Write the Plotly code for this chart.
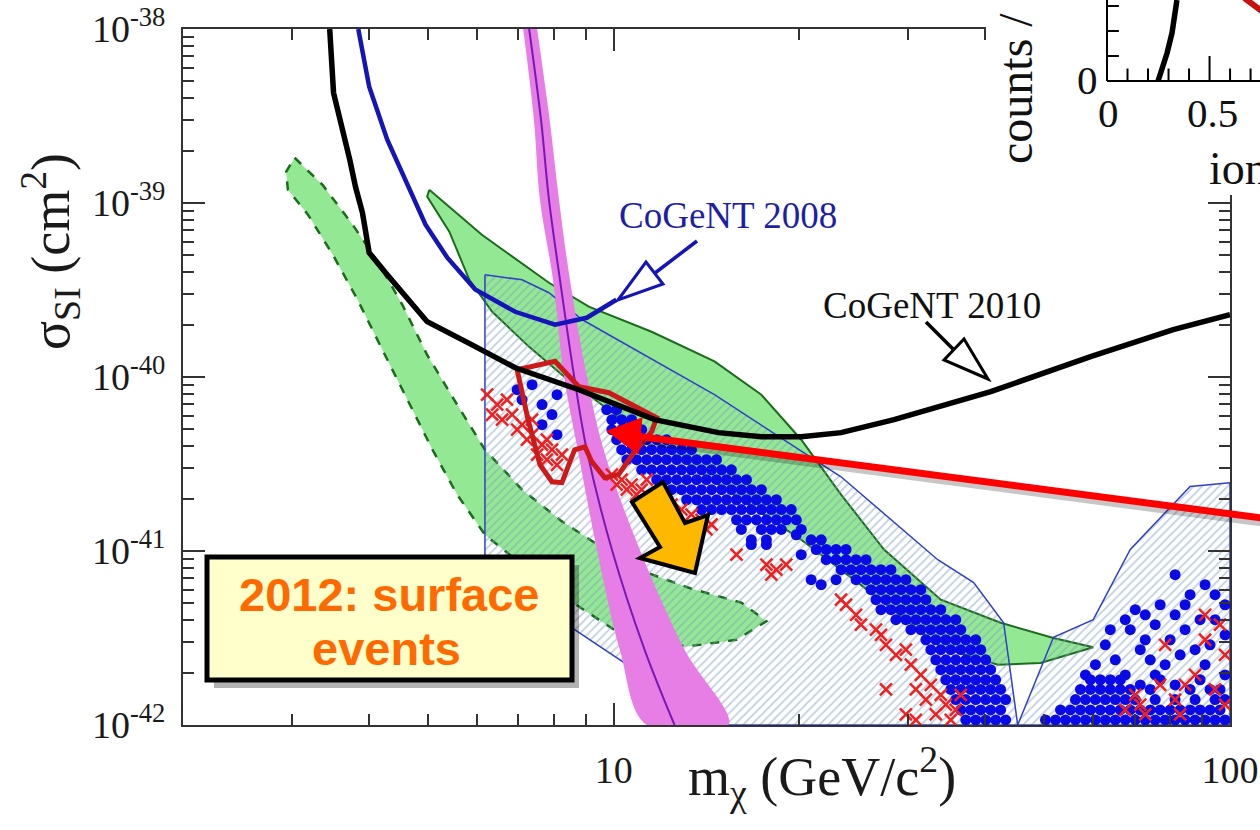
import plotly.graph_objects as go

FIG_W, FIG_H = 1260, 830

# ---------------- values ----------------
# axis ticks
x_major = [10, 100]
x_major_text = ["10", "100"]
x_minor = [3, 4, 5, 6, 7, 8, 9, 20, 30, 40, 50, 60, 70, 80, 90]
y_major = [1e-42, 1e-41, 1e-40, 1e-39, 1e-38]
y_major_text = ["10<sup>-42</sup>", "10<sup>-41</sup>", "10<sup>-40</sup>", "10<sup>-39</sup>", "10<sup>-38</sup>"]
y_minor = [k * 10.0 ** e for e in (-42, -41, -40, -39) for k in range(2, 10)]

# CoGeNT 2010 limit (black)
cogent2010_mass = [3.46, 3.51, 3.73, 3.81, 3.91, 4.01, 4.29, 4.98, 5.89, 6.92, 8.78, 11.65,
                   14.79, 17.36, 20.15, 23.38, 28.5, 40.9, 59.4, 80.9, 100]
cogent2010_sigma = [1e-38, 4.3e-39, 1.77e-39, 1.24e-39, 8.8e-40, 5.18e-40, 3.87e-40, 2.08e-40,
                    1.53e-40, 1.13e-40, 8.45e-41, 5.69e-41, 4.79e-41, 4.54e-41, 4.54e-41, 4.79e-41,
                    5.69e-41, 8.24e-41, 1.31e-40, 1.87e-40, 2.28e-40]

# CoGeNT 2008 limit (blue)
cogent2008_mass = [3.85, 4.01, 4.29, 4.62, 4.95, 5.37, 5.96, 6.92, 8.03, 9.04, 10.1]
cogent2008_sigma = [1e-38, 4.66e-39, 2.31e-39, 1.27e-39, 7.5e-40, 4.85e-40, 3.18e-40, 2.37e-40,
                    2.0e-40, 2.19e-40, 2.78e-40]

# green region with dashed border
dama_dashed_mass = [3.035, 3.37, 3.77, 4.14, 4.54, 4.98, 5.57, 6.18, 7.10, 8.24, 9.56, 11.10, 13.37,
                    16.11, 17.69, 15.82, 13.13, 10.30, 8.55, 7.10, 6.18, 5.57, 5.08, 4.62, 4.21,
                    3.84, 3.50, 3.19, 2.96, 2.94]
dama_dashed_sigma = [1.82e-39, 1.27e-39, 7.50e-40, 4.60e-40, 2.60e-40, 1.34e-40, 6.94e-41, 3.82e-41,
                     2.25e-41, 1.48e-41, 1.05e-41, 7.7e-42, 6.07e-42, 5.05e-42, 3.95e-42, 3.09e-42,
                     2.82e-42, 3.30e-42, 5.1e-42, 8.34e-42, 1.24e-41, 2.11e-41, 3.82e-41, 7.41e-41,
                     1.44e-40, 2.78e-40, 5.05e-40, 8.57e-40, 1.19e-39, 1.51e-39]

# green region with solid border
dama_mass = [5.02, 6.11, 7.85, 9.11, 11.52, 14.57, 17.36, 20.15, 23.38, 27.45, 33.94, 42.44, 51.7,
             60.0, 49.27, 42.0, 33.94, 24.9, 20.15, 16.11, 12.88, 10.30, 8.24, 7.29, 6.35, 5.83,
             5.41, 4.98]
dama_sigma = [1.19e-39, 6.57e-40, 3.48e-40, 2.54e-40, 1.82e-40, 1.23e-40, 7.91e-41, 4.36e-41,
              2.11e-41, 1.02e-41, 5.25e-42, 3.87e-42, 3.16e-42, 2.80e-42, 2.27e-42, 2.22e-42,
              2.80e-42, 6.58e-42, 1.16e-41, 1.97e-41, 3.35e-41, 5.68e-41, 1.03e-40, 1.49e-40,
              2.37e-40, 3.62e-40, 6.84e-40, 1.09e-39]

# hatched region
hatched_mass = [6.18, 7.10, 7.85, 8.88, 14.57, 23.38, 33.56, 38.38, 42.92, 45.24, 51.7, 60.0, 68.89,
                86.15, 100, 100, 12.88, 10.42, 8.64, 6.18]
hatched_sigma = [3.87e-40, 3.62e-40, 3.05e-40, 2.14e-40, 7.91e-41, 2.67e-41, 8.91e-42, 6.58e-42,
                 3.87e-42, 1.0e-42, 3.19e-42, 4.03e-42, 1.02e-41, 2.35e-41, 2.47e-41, 1.0e-42,
                 1.0e-42, 2.27e-42, 3.53e-42, 9.52e-42]

# magenta band
band_sigma = [1e-38, 3.01e-39, 1.045e-39, 3.62e-40, 1.02e-40, 3.82e-41, 1.02e-41, 2.71e-42, 1e-42]
band_low_mass = [7.13, 7.42, 7.59, 7.97, 8.30, 8.74, 9.39, 10.23, 11.31]
band_mid_mass = [7.29, 7.62, 7.85, 8.18, 8.62, 9.04, 9.93, 11.22, 12.55]
band_high_mass = [7.51, 7.87, 8.15, 8.49, 9.04, 9.63, 11.02, 13.03, 15.35]

# red closed contour
contour_mass = [6.97, 8.03, 8.78, 9.82, 11.74, 11.52, 10.81, 10.18, 9.67, 9.21, 8.98, 8.64, 8.24,
                7.94, 7.59, 7.26, 6.97]
contour_sigma = [1.10e-40, 1.23e-40, 8.79e-41, 8.12e-41, 5.83e-41, 4.85e-41, 3.73e-41, 2.75e-41,
                 2.64e-41, 3.26e-41, 3.97e-41, 3.82e-41, 2.47e-41, 2.50e-41, 3.13e-41, 5.68e-41,
                 1.10e-40]

# blue dots, grouped in rows of equal cross-section
blue_row_sigma = [6.49e-41, 5.68e-41, 4.98e-41, 4.36e-41, 3.82e-41, 3.35e-41, 2.93e-41, 2.57e-41,
                  2.25e-41, 1.97e-41, 1.73e-41, 1.51e-41, 1.33e-41, 1.16e-41, 1.02e-41, 8.91e-42,
                  7.81e-42, 6.84e-42, 5.99e-42, 5.25e-42, 4.60e-42, 4.03e-42, 3.53e-42, 3.09e-42,
                  2.71e-42, 2.37e-42, 2.08e-42, 1.82e-42, 1.60e-42, 1.40e-42, 1.22e-42, 1.07e-42]
blue_row_mass = [
    [9.74, 10.11],
    [9.93, 10.30, 10.69],
    [9.93, 10.30, 10.69, 11.10],
    [10.11, 10.50, 10.89, 11.31, 11.74, 12.18],
    [10.30, 10.69, 11.10, 11.52, 11.96, 12.41, 12.88, 13.37],
    [10.50, 10.89, 11.31, 11.74, 12.18, 12.65, 13.13, 13.63, 14.14, 14.68],
    [11.10, 11.52, 11.96, 12.41, 12.88, 13.37, 13.88, 14.41, 14.96, 15.52],
    [11.74, 12.18, 12.65, 13.13, 13.63, 14.14, 14.68, 15.24, 15.82, 16.42],
    [12.41, 12.88, 13.37, 13.88, 14.41, 14.96, 15.52, 16.11, 16.72, 17.36],
    [13.13, 13.63, 14.14, 14.68, 15.24, 15.82, 16.42, 17.04, 17.69, 18.36],
    [13.88, 14.41, 14.96, 15.52, 16.11, 16.72, 17.36, 18.02, 18.70, 19.41],
    [15.82, 16.42, 17.04, 17.69, 18.36, 19.05, 19.78],
    [16.11, 17.36, 18.02, 18.70, 20.15],
    [16.72, 17.69, 20.91, 21.71],
    [21.31, 22.12, 22.95, 23.82],
    [22.12, 22.95, 23.82, 24.73, 25.67],
    [23.38, 24.27, 25.19, 26.15, 27.14, 28.17],
    [24.73, 25.67, 26.64, 27.65, 28.70, 29.79],
    [26.15, 27.14, 28.17, 29.24, 30.35, 31.50],
    [26.64, 27.65, 28.70, 29.79, 30.92, 32.10],
    [27.14, 28.17, 29.24, 30.35, 31.50, 32.70, 33.94],
    [28.70, 29.79, 30.92, 32.10, 33.31, 34.58, 35.89],
    [30.35, 31.50, 32.70, 33.94, 35.23, 36.57],
    [32.10, 33.31, 34.58, 35.89, 37.26, 38.67],
    [32.70, 33.94, 35.23, 36.57, 37.96, 39.40],
    [33.31, 34.58, 35.89, 37.26, 38.67, 40.14],
    [33.94, 35.23, 36.57, 37.96, 39.40, 40.89],
    [34.58, 35.89, 37.26, 38.67, 40.14, 41.66, 59.36, 61.60, 63.94, 66.37, 77.03, 89.43],
    [35.23, 36.57, 37.96, 39.40, 40.89, 42.44, 57.19, 59.36, 61.60, 63.94, 66.37, 68.89, 74.23,
     86.15, 96.34],
    [35.89, 37.26, 38.67, 40.14, 41.66, 43.24, 56.13, 58.27, 60.48, 62.76, 65.15, 67.62, 70.19,
     75.62, 81.46, 87.77, 94.57, 98.16],
    [36.57, 37.96, 39.40, 40.89, 42.44, 53.08, 55.09, 57.19, 59.36, 61.60, 63.94, 66.37, 68.89,
     71.51, 74.23, 77.03, 79.96, 83.00, 86.15, 89.43, 92.82, 96.34],
    [37.26, 38.67, 40.14, 41.66, 43.24, 50.19, 52.10, 54.08, 56.13, 58.27, 60.48, 62.76, 65.15,
     67.62, 70.19, 72.86, 75.62, 78.48, 81.46, 84.56, 87.77, 91.11, 94.57, 98.16],
]
blue_extra_mass = [6.97, 8.09, 7.65, 7.10, 7.94, 7.65, 8.09, 7.37,
                   16.72, 17.69, 19.78, 20.15, 20.91, 21.71, 22.95,
                   60.48, 62.76, 67.62, 70.19, 77.03, 81.46, 86.15, 91.11, 94.57, 98.16, 75.62,
                   81.46, 98.16, 87.77, 78.48, 71.51, 91.11, 98.16, 65.15, 75.62, 68.89, 72.86,
                   79.96, 84.56, 89.43, 94.57, 92.82, 83.00, 74.23, 67.62, 71.51, 81.46, 92.82,
                   84.56, 72.86, 63.94, 58.27]
blue_extra_sigma = [8.45e-41, 7.91e-41, 6.94e-41, 7.41e-41, 6.08e-41, 5.32e-41, 4.66e-41, 9.03e-41,
                    1.09e-41, 1.09e-41, 1.24e-41, 9.52e-42, 6.84e-42, 6.40e-42, 6.84e-42,
                    2.22e-42, 2.89e-42, 4.03e-42, 4.60e-42, 4.91e-42, 7.31e-42, 5.61e-42, 6.40e-42,
                    5.61e-42, 4.91e-42, 3.77e-42, 4.30e-42, 3.30e-42, 2.71e-42, 2.22e-42, 2.71e-42,
                    2.22e-42, 1.94e-42, 2.37e-42, 1.94e-42, 3.53e-42, 3.09e-42, 3.09e-42, 3.53e-42,
                    4.03e-42, 4.03e-42, 2.89e-42, 2.53e-42, 2.37e-42, 1.94e-42, 1.70e-42, 1.70e-42,
                    1.60e-42, 4.91e-42, 4.30e-42, 3.53e-42, 1.94e-42]

# red crosses
red_mass = [6.23, 6.47, 6.71, 6.35, 6.84, 7.10, 7.37, 7.65, 7.94, 7.51, 7.79, 8.09, 7.23, 6.97, 6.59,
            8.24, 7.79, 7.37,
            9.93, 10.30, 10.69, 11.10, 10.11, 10.50, 10.89, 11.31, 11.52, 12.41, 12.88, 13.37, 13.88,
            14.41, 14.14,
            15.82, 17.69, 18.36, 19.05, 18.02,
            23.82, 24.73, 25.19, 27.14, 27.65, 28.70, 29.79, 30.35,
            23.38, 26.64, 31.50, 32.70, 33.94, 34.58, 35.89, 33.31, 30.92, 36.57, 27.65, 29.79,
            32.10, 35.23, 30.92,
            91.11, 91.11, 78.48, 84.56, 94.57, 77.03, 67.62, 71.51, 72.86, 81.46, 87.77, 98.16,
            83.00, 98.16, 70.19, 96.34]
red_sigma = [7.91e-41, 6.94e-41, 7.41e-41, 6.08e-41, 6.08e-41, 5.32e-41, 4.66e-41, 4.08e-41,
             3.82e-41, 3.58e-41, 3.35e-41, 3.13e-41, 4.36e-41, 4.98e-41, 5.68e-41, 3.58e-41,
             4.36e-41, 5.68e-41,
             2.75e-41, 2.57e-41, 2.41e-41, 2.25e-41, 2.41e-41, 2.25e-41, 2.11e-41, 2.57e-41,
             1.97e-41, 1.85e-41, 1.73e-41, 1.62e-41, 1.51e-41, 1.42e-41, 1.33e-41,
             9.52e-42, 8.34e-42, 7.81e-42, 8.34e-42, 7.31e-42,
             4.91e-42, 4.30e-42, 3.77e-42, 3.30e-42, 2.89e-42, 2.53e-42, 2.71e-42, 2.22e-42,
             5.25e-42, 3.53e-42, 1.94e-42, 1.70e-42, 1.49e-42, 1.31e-42, 1.22e-42, 1.15e-42,
             1.07e-42, 1.49e-42, 1.60e-42, 1.15e-42, 1.40e-42, 1.07e-42, 1.60e-42,
             4.30e-42, 3.09e-42, 2.89e-42, 1.70e-42, 1.60e-42, 1.70e-42, 1.22e-42, 1.31e-42,
             1.15e-42, 1.40e-42, 1.94e-42, 2.53e-42, 1.15e-42, 1.31e-42, 1.49e-42, 3.77e-42]

# inset (top right, mostly cut off)
inset_energy = [0.249, 0.293, 0.317, 0.332, 0.341]
inset_counts = [0, 5.6, 9.6, 13.6, 16.2]
inset_red_energy = [0.67, 0.76]
inset_red_counts = [16.6, 13.8]
inset_xticks = [0.1, 0.2, 0.3, 0.4, 0.5, 0.6, 0.7]
inset_yticks = [5, 10, 15]

# ---------------- helpers ----------------
SERIF = "Liberation Serif"


def px(x):
    return x / FIG_W


def py(y):
    return 1 - y / FIG_H


def closed(a):
    return list(a) + [a[0]]


blue_x, blue_y = [], []
for s, row in zip(blue_row_sigma, blue_row_mass):
    for m in row:
        blue_x.append(m)
        blue_y.append(s)
blue_x += blue_extra_mass
blue_y += blue_extra_sigma

fig = go.Figure()

# green regions
fig.add_trace(go.Scatter(x=closed(dama_dashed_mass), y=closed(dama_dashed_sigma), mode="lines",
                         fill="toself", fillcolor="#93e893",
                         line=dict(color="#1d6b1d", width=2.5, dash="dash")))
fig.add_trace(go.Scatter(x=closed(dama_mass), y=closed(dama_sigma), mode="lines",
                         fill="toself", fillcolor="#93e893",
                         line=dict(color="#1d6b1d", width=2)))
# hatched region
fig.add_trace(go.Scatter(x=closed(hatched_mass), y=closed(hatched_sigma), mode="lines",
                         fill="toself", fillcolor="rgba(0,0,0,0)",
                         fillpattern=dict(shape="/", fgcolor="#7f9fc0", bgcolor="rgba(0,0,0,0)",
                                          size=6, solidity=0.3, fillmode="overlay"),
                         line=dict(color="#3040c8", width=1.5)))
# magenta band
fig.add_trace(go.Scatter(x=band_low_mass + band_high_mass[::-1], y=band_sigma + band_sigma[::-1],
                         mode="lines", fill="toself", fillcolor="#e67ee6",
                         line=dict(width=0, shape="spline", color="#e67ee6")))
fig.add_trace(go.Scatter(x=band_mid_mass, y=band_sigma, mode="lines",
                         line=dict(color="#7a18b4", width=2, shape="spline")))
# scatter points
fig.add_trace(go.Scatter(x=blue_x, y=blue_y, mode="markers",
                         marker=dict(color="#0a0ae6", size=11, line=dict(width=0))))
fig.add_trace(go.Scatter(x=red_mass, y=red_sigma, mode="markers",
                         marker=dict(symbol="x-thin", size=12, color="#ee2020",
                                     line=dict(width=2.5, color="#ee2020"))))
# red contour
fig.add_trace(go.Scatter(x=contour_mass, y=contour_sigma, mode="lines",
                         line=dict(color="#cc1a1a", width=5)))
# limits
fig.add_trace(go.Scatter(x=cogent2010_mass, y=cogent2010_sigma, mode="lines",
                         line=dict(color="black", width=5.5)))
fig.add_trace(go.Scatter(x=cogent2008_mass, y=cogent2008_sigma, mode="lines",
                         line=dict(color="#1414b8", width=4.5)))

# ---- inset (on its own axes; white background hides the main frame corner)
IX = [-0.590, 0.746]
IY = [-22.8, 16.2]
fig.add_trace(go.Scatter(x=[IX[0], IX[1], IX[1], IX[0], IX[0]], y=[IY[0], IY[0], IY[1], IY[1], IY[0]],
                         mode="lines", fill="toself", fillcolor="white", line=dict(width=0),
                         xaxis="x2", yaxis="y2"))
ax_x, ax_y = [0, 0, None, 0, IX[1]], [IY[1], 0, None, 0, 0]
for t in inset_xticks:
    ax_x += [None, t, t]
    ax_y += [None, 0, 5.0 if abs(t - 0.5) < 1e-9 else 2.5]
for t in inset_yticks:
    ax_x += [None, 0, 0.058]
    ax_y += [None, t, t]
fig.add_trace(go.Scatter(x=ax_x, y=ax_y, mode="lines", line=dict(color="black", width=2),
                         xaxis="x2", yaxis="y2"))
fig.add_trace(go.Scatter(x=inset_energy, y=inset_counts, mode="lines",
                         line=dict(color="black", width=5.5), xaxis="x2", yaxis="y2"))
fig.add_trace(go.Scatter(x=inset_red_energy, y=inset_red_counts, mode="lines",
                         line=dict(color="#c81010", width=6), xaxis="x2", yaxis="y2"))

axis_common = dict(showgrid=False, zeroline=False, showline=True, linecolor="#333", linewidth=2,
                   mirror="ticks", ticks="inside", tickcolor="#333", tickwidth=1.5, ticklen=22,
                   automargin=False,
                   tickfont=dict(family=SERIF, size=38, color="#1a1a1a"))

fig.update_layout(
    width=FIG_W, height=FIG_H, margin=dict(l=0, r=0, t=0, b=0, pad=0, autoexpand=False),
    paper_bgcolor="white", plot_bgcolor="white", showlegend=False,
    xaxis=dict(type="log", range=[0.30103, 2], domain=[183 / FIG_W, 1230 / FIG_W],
               tickmode="array", tickvals=x_major, ticktext=x_major_text, ticklabelstandoff=10,
               minor=dict(tickmode="array", tickvals=x_minor, ticks="inside", ticklen=11,
                          tickcolor="#333", tickwidth=1.5, showgrid=False),
               anchor="y", **axis_common),
    yaxis=dict(type="log", range=[-42, -38], domain=[1 - 725 / FIG_H, 1 - 29 / FIG_H],
               tickmode="array", tickvals=y_major, ticktext=y_major_text, ticklabelstandoff=8,
               minor=dict(tickmode="array", tickvals=y_minor, ticks="inside", ticklen=11,
                          tickcolor="#333", tickwidth=1.5, showgrid=False),
               anchor="x", **axis_common),
    xaxis2=dict(domain=[986 / FIG_W, 1], range=IX, visible=False, anchor="y2"),
    yaxis2=dict(domain=[1 - 195 / FIG_H, 1], range=IY, visible=False, anchor="x2"),
)

shapes = []
# big red arrow (shadow, shaft, head)
shapes.append(dict(type="line", xref="paper", yref="paper", x0=px(1262), y0=py(523), x1=px(642), y1=py(441),
                   line=dict(color="rgba(0,0,0,0.22)", width=7), layer="above"))
shapes.append(dict(type="line", xref="paper", yref="paper", x0=px(1262), y0=py(518), x1=px(636), y1=py(436),
                   line=dict(color="#ff0000", width=7), layer="above"))
shapes.append(dict(type="path", xref="paper", yref="paper",
                   path=f"M {px(607)},{py(431)} L {px(642)},{py(418)} L {px(638)},{py(454)} Z",
                   fillcolor="#ff0000", line=dict(color="#ff0000", width=1), layer="above"))
# orange block arrow
pts = [(632, 502), (663, 482), (685, 523), (708, 515), (695, 573), (640, 558), (660, 547)]
shapes.append(dict(type="path", xref="paper", yref="paper",
                   path="M " + " L ".join(f"{px(a)},{py(b)}" for a, b in pts) + " Z",
                   fillcolor="#ffb800", line=dict(color="black", width=4), layer="above"))
# CoGeNT 2008 arrow (open head)
shapes.append(dict(type="line", xref="paper", yref="paper", x0=px(697), y0=py(241), x1=px(655), y1=py(273),
                   line=dict(color="#1414b8", width=3.5), layer="above"))
shapes.append(dict(type="path", xref="paper", yref="paper",
                   path=f"M {px(618)},{py(300)} L {px(646)},{py(262)} L {px(663)},{py(284)} Z",
                   fillcolor="white", line=dict(color="#1414b8", width=3), layer="above"))
# CoGeNT 2010 arrow (open head)
shapes.append(dict(type="line", xref="paper", yref="paper", x0=px(926), y0=py(322), x1=px(954), y1=py(350),
                   line=dict(color="black", width=3.5), layer="above"))
shapes.append(dict(type="path", xref="paper", yref="paper",
                   path=f"M {px(988)},{py(379)} L {px(944)},{py(360)} L {px(964)},{py(339)} Z",
                   fillcolor="white", line=dict(color="black", width=3), layer="above"))
# yellow text box with shadow
shapes.append(dict(type="rect", xref="paper", yref="paper", x0=px(214), y0=py(565), x1=px(579), y1=py(688),
                   fillcolor="rgba(0,0,0,0.3)", line=dict(width=0), layer="above"))
shapes.append(dict(type="rect", xref="paper", yref="paper", x0=px(207), y0=py(557), x1=px(572), y1=py(680),
                   fillcolor="#ffffcc", line=dict(color="black", width=5), layer="above"))

annotations = [
    dict(text="CoGeNT 2008", x=px(617), y=py(215), xanchor="left", yanchor="middle",
         font=dict(family=SERIF, size=37, color="#1f1fa5")),
    dict(text="CoGeNT 2010", x=px(821), y=py(305), xanchor="left", yanchor="middle",
         font=dict(family=SERIF, size=37, color="#111")),
    dict(text="<b>2012: surface</b>", x=px(389), y=py(594), xanchor="center", yanchor="middle",
         font=dict(family="Liberation Sans", size=47, color="#ff6a00")),
    dict(text="<b>events</b>", x=px(386), y=py(648), xanchor="center", yanchor="middle",
         font=dict(family="Liberation Sans", size=47, color="#ff6a00")),
    dict(text="m<sub>χ</sub> (GeV/c<sup>2</sup>)", x=px(822), y=py(776), xanchor="center", yanchor="middle",
         font=dict(family=SERIF, size=54, color="#1a1a1a")),
    dict(text="σ<sub>SI</sub> (cm<sup>2</sup>)", x=px(50), y=py(252), xanchor="center", yanchor="middle",
         textangle=-90, font=dict(family=SERIF, size=54, color="#1a1a1a")),
    # inset texts
    dict(text="counts / 0.05 keVee", x=px(1016), y=py(166), xanchor="center", yanchor="bottom",
         textangle=-90, font=dict(family=SERIF, size=48, color="#111")),
    dict(text="0", x=px(1087), y=py(80), xanchor="center", yanchor="middle",
         font=dict(family=SERIF, size=41, color="#111")),
    dict(text="0", x=px(1108), y=py(113), xanchor="center", yanchor="middle",
         font=dict(family=SERIF, size=41, color="#111")),
    dict(text="0.5", x=px(1212), y=py(113), xanchor="center", yanchor="middle",
         font=dict(family=SERIF, size=41, color="#111")),
    dict(text="ionization energy (keVee)", x=px(1207), y=py(168), xanchor="left", yanchor="middle",
         font=dict(family=SERIF, size=46, color="#111")),
]
for a in annotations:
    a.update(xref="paper", yref="paper", showarrow=False)

fig.update_layout(shapes=shapes, annotations=annotations)
fig.write_html("out.html")
